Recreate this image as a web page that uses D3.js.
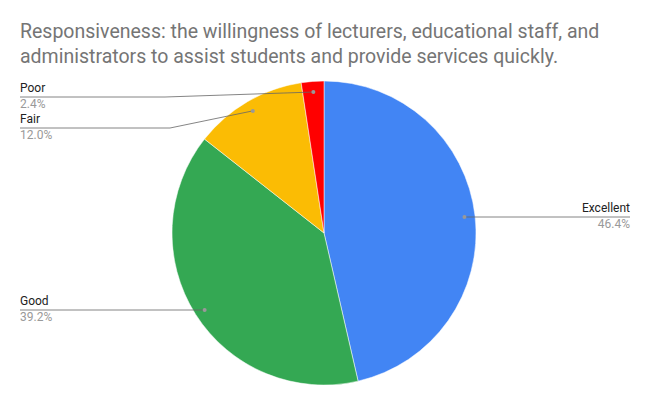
<!DOCTYPE html>
<html lang="en">
<head>
<meta charset="UTF-8">
<script src="https://d3js.org/d3.v7.min.js"></script>
<style>
  body { margin: 0; background: #fff; }
  text { font-family: Roboto, Arial, sans-serif; }
</style>
</head>
<body>
<div id="chart"></div>
<script>
const categories = ["Excellent", "Good", "Fair", "Poor"];
const values = [46.4, 39.2, 12.0, 2.4];
const colors = ["#4285F4", "#34A853", "#FBBC04", "#FF0000"];
const titleLines = [
  "Responsiveness: the willingness of lecturers, educational staff, and",
  "administrators to assist students and provide services quickly."
];

// label layout: side, label baseline y, elbow x (left side only)
const labelLayout = [
  {side: "right", y: 212, elbow: null},
  {side: "left", y: 305, elbow: null},
  {side: "left", y: 123, elbow: 170},
  {side: "left", y: 92, elbow: 165}
];

const width = 649, height = 405;
const cx = 324, cy = 233, r = 152;

const svg = d3.select("#chart").append("svg")
  .attr("width", width).attr("height", height);

svg.selectAll(".title").data(titleLines).join("text")
  .attr("x", 20).attr("y", (d, i) => 38 + i * 25)
  .attr("font-size", 19.5).attr("fill", "#757575").text(d => d);

const pie = d3.pie().sort(null).value(d => d)(values);
const arc = d3.arc().innerRadius(0).outerRadius(r);
const g = svg.append("g").attr("transform", `translate(${cx},${cy})`);

g.selectAll("path").data(pie).join("path")
  .attr("d", arc).attr("fill", (d, i) => colors[i])
  .attr("stroke", "#fff").attr("stroke-width", 0.5);

pie.forEach((d, i) => {
  const a = (d.startAngle + d.endAngle) / 2;
  const px = cx + Math.sin(a) * r * 0.93;
  const py = cy - Math.cos(a) * r * 0.93;
  const L = labelLayout[i];
  const ly = L.y + 5;
  let pts;
  if (L.side === "right") pts = [[px, ly], [630, ly]];
  else if (L.elbow) pts = [[20, ly], [L.elbow, ly], [px, py]];
  else pts = [[20, ly], [px, ly]];
  svg.append("path").attr("d", d3.line()(pts))
    .attr("fill", "none").attr("stroke", "#666").attr("stroke-width", 0.8);
  svg.append("circle").attr("cx", px).attr("cy", L.elbow ? py : ly).attr("r", 2).attr("fill", "#999");
  const tx = L.side === "right" ? 630 : 20;
  const anchor = L.side === "right" ? "end" : "start";
  svg.append("text").attr("x", tx).attr("y", L.y).attr("text-anchor", anchor)
    .attr("font-size", 12).attr("fill", "#222").text(categories[i]);
  svg.append("text").attr("x", tx).attr("y", L.y + 16).attr("text-anchor", anchor)
    .attr("font-size", 12).attr("fill", "#999").text(values[i].toFixed(1) + "%");
});
</script>
</body>
</html>
